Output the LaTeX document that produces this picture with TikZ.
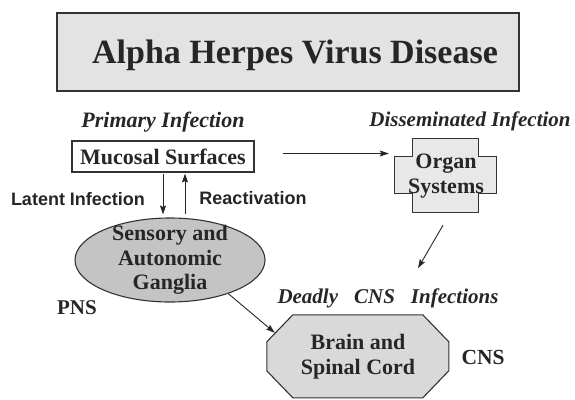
\documentclass[tikz,border=0pt]{standalone}
\usepackage{fontspec}
\setmainfont{Liberation Serif}
\setsansfont{Liberation Sans}
\usetikzlibrary{arrows.meta,positioning,calc,shapes.geometric,backgrounds}

\tikzset{
  boxline/.style={draw=black!80, line width=1.1pt},
  conn/.style={-{Stealth[length=9pt,width=6pt,inset=1.5pt]}, line width=0.9pt, draw=black!85},
  heading/.style={font=\fontsize{22}{24.5}\selectfont\bfseries\itshape, text=black!85},
  blocktext/.style={font=\fontsize{22}{24.5}\selectfont\bfseries, text=black!85, align=center},
  sidelabel/.style={font=\sffamily\bfseries\fontsize{18}{20}\selectfont, text=black!85},
}

\begin{document}
\begin{tikzpicture}[x=1pt, y=-1pt]
\useasboundingbox (0,0) rectangle (575,399);

% Title
\node[boxline, fill=black!11, minimum width=462pt, minimum height=78pt, text=black!85, text height=31pt,
      font=\fontsize{34}{38}\selectfont\bfseries] (title) at (288,52) {\hspace*{14pt}Alpha Herpes Virus Disease};

% Primary infection
\node[boxline, fill=white, blocktext, minimum width=182pt, minimum height=31pt, inner sep=0pt] (mucosal) at (163,156.5) {Mucosal Surfaces};
\node[heading] (primary) at (163,122) {Primary Infection};

% Disseminated infection
\node[heading, font=\fontsize{21}{24}\selectfont\bfseries\itshape] (dissem) at (470,121) {Disseminated Infection};
\node[blocktext, minimum width=102pt, minimum height=74pt, inner sep=0pt] (organ) at (446,176) {Organ\\Systems};

% Ganglia
\node[ellipse, boxline, fill=black!23, minimum width=190pt, minimum height=84pt, inner sep=0pt,
      label={[blocktext]center:Sensory and\\Autonomic\\Ganglia}] (ganglia) at (170,260) {};
\node[blocktext, font=\fontsize{21}{24}\selectfont\bfseries] (pns) at (77,308) {PNS};
\node[sidelabel] (latent) at (78,199) {Latent Infection};
\node[sidelabel] (react) at (253,198) {Reactivation};

% CNS
\node[heading, font=\fontsize{21}{24}\selectfont\bfseries\itshape] (deadly) at (388,298) {Deadly\hspace{16pt}CNS\hspace{16pt}Infections};
\node[blocktext, minimum width=182pt, minimum height=83pt, inner sep=0pt] (brain) at (358,356.5) {Brain and\\Spinal Cord};
\node[blocktext, font=\fontsize{21.5}{24}\selectfont\bfseries] (cns) at (483,357) {CNS};

% Outlines behind the texts
\begin{scope}[on background layer]
  \filldraw[boxline, fill=black!9]
    ($(organ.north west)+(18,0)$) -- ++(66,0) -- ++(0,18) -- ++(18,0) -- ++(0,37) -- ++(-18,0)
    -- ++(0,19) -- ++(-66,0) -- ++(0,-19) -- ++(-18,0) -- ++(0,-37) -- ++(18,0) -- cycle;
  \filldraw[boxline, fill=black!15]
    ($(brain.north west)+(26,0)$) -- ++(130,0) -- ++(26,27) -- ++(0,29) -- ++(-26,27)
    -- ++(-130,0) -- ++(-26,-27) -- ++(0,-29) -- cycle;
\end{scope}
\coordinate (cut) at ($(brain.north west)+(8,18)$);

% Connectors
\draw[conn, shorten <=28pt, shorten >=6pt] ([yshift=3pt]mucosal.east) -- ([yshift=3pt]mucosal.east -| organ.west);
\draw[conn, shorten <=1pt, shorten >=3pt] (mucosal.south) -- (mucosal.south |- ganglia.north);
\draw[conn, shorten <=3pt, shorten >=1pt] ([xshift=22pt]mucosal.south |- ganglia.north) -- ([xshift=22pt]mucosal.south);
\draw[conn] (ganglia.-30) -- (cut);
\draw[conn] ([shift={(-3,12)}]organ.south) -- ([shift={(-28,55)}]organ.south);

\end{tikzpicture}
\end{document}
